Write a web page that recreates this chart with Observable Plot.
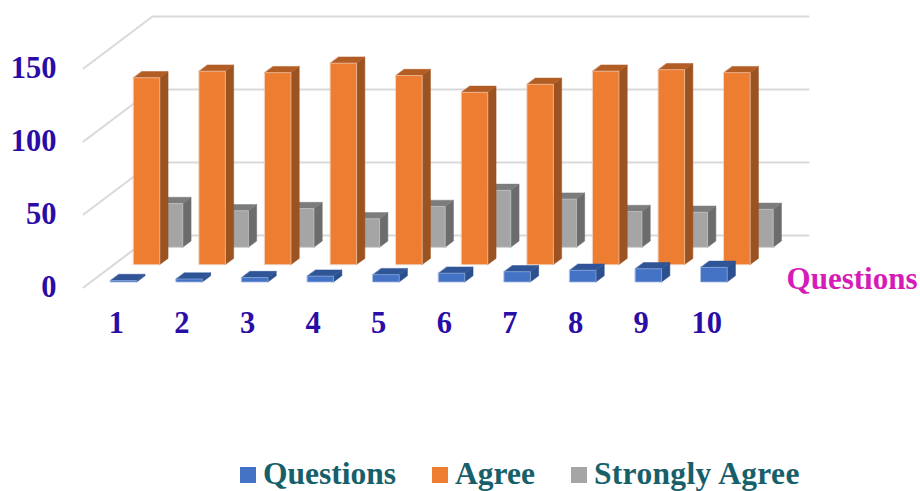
<!DOCTYPE html>
<html>
<head>
<meta charset="utf-8">
<script src="https://cdn.jsdelivr.net/npm/d3@7"></script>
<script src="https://cdn.jsdelivr.net/npm/@observablehq/plot@0.6"></script>
<style>
html,body{margin:0;padding:0;background:#fff;width:920px;height:491px;overflow:hidden}
#chart svg{display:block}
#legend{display:flex;align-items:center;height:28px;padding-left:240px;font:bold 31.5px/28px "Liberation Serif",serif;color:#17606a}
#legend i{display:block;width:16px;height:16px;margin-right:7px;margin-top:2px}
#legend span{display:block;white-space:nowrap}
</style>
</head>
<body>
<div id="chart"></div>
<div id="legend"></div>
<script>
const categories = [1,2,3,4,5,6,7,8,9,10];
const questions = [1,2,3,4,5,6,7,8,9,10];
const agree = [128,132.5,131.5,138,129.5,118,123.5,132.5,133.5,131.5];
const stronglyAgree = [30,25,26.5,19.5,28,39,33,24.5,24,26];
const yTicks = [0,50,100,150];
const seriesNames = ["Questions","Agree","Strongly Agree"];
const legendColors = ["#4472C4","#ED7D31","#A5A5A5"];

// oblique projection of the 3D chart: depth z is expressed in scale units
const unitX = 65.6, unitY = 1.46, depthX = 23, depthY = 17.33;
const rows = 3, halfBar = 0.2, zFront = 0.32, zBack = 0.68;
const P = (c, v, z, id) => ({x: c + z * depthX / unitX, y: v + z * depthY / unitY, id});

function faces(values, row) {
  const front = [], side = [], top = [];
  values.forEach((v, i) => {
    const c = categories[i], a = c - halfBar, b = c + halfBar, f = row + zFront, k = row + zBack;
    front.push(P(a,0,f,i),P(b,0,f,i),P(b,v,f,i),P(a,v,f,i));
    side.push(P(b,0,f,i),P(b,0,k,i),P(b,v,k,i),P(b,v,f,i));
    top.push(P(a,v,f,i),P(b,v,f,i),P(b,v,k,i),P(a,v,k,i));
  });
  return {front, side, top};
}
function box(values, row, cFront, cSide, cTop, halo) {
  const {front, side, top} = faces(values, row);
  const o = (fill, stroke, sw) => ({x:"x", y:"y", z:"id", fill, stroke, strokeWidth:sw, curve:"linear-closed"});
  return [
    Plot.line(side, o(cSide, cSide, .5)),
    Plot.line(top, o(cTop, cTop, .5)),
    Plot.line(front, o(cFront, halo, .7))
  ];
}
const wallLeft = yTicks.flatMap(t => [P(0.5,t,0,t), P(0.5,t,rows,t)]);
const wallBack = yTicks.flatMap(t => [P(0.5,t,rows,t), P(10.5,t,rows,t)]);

const chart = Plot.plot({
  width: 920, height: 460,
  marginLeft: 83, marginRight: 112, marginTop: 10, marginBottom: 173,
  x: {type:"linear", domain:[0.5, 10.5 + rows*depthX/unitX]},
  y: {type:"linear", domain:[0, 277/unitY]},
  marks: [
    Plot.line(wallLeft, {x:"x", y:"y", z:"id", stroke:"#d9d9d9", strokeWidth:2}),
    Plot.line(wallBack, {x:"x", y:"y", z:"id", stroke:"#d9d9d9", strokeWidth:2}),
    ...box(stronglyAgree, 2, "#A5A5A5", "#6C6C6C", "#7C7C7C", "#c4c4c4"),
    ...box(agree, 1, "#ED7D31", "#9C5322", "#B25D24", "#f0c6ab"),
    ...box(questions, 0, "#4472C4", "#2C4F8E", "#2F5597", "#8faadc"),
    Plot.axisY({ticks: yTicks, tickSize:0, tickPadding:27, label:null, tickFormat:d=>d,
      fontSize:30.5, fontWeight:"bold", fontFamily:"Liberation Serif", fill:"#2A0CA6"}),
    Plot.axisX({ticks: categories, tickSize:0, tickPadding:24, label:null, tickFormat:d=>d,
      fontSize:30.5, fontWeight:"bold", fontFamily:"Liberation Serif", fill:"#2A0CA6"}),
    Plot.text(["Questions"], {frameAnchor:"bottom-right", dx:109, dy:1, textAnchor:"end",
      fontSize:31, fontWeight:"bold", fontFamily:"Liberation Serif", fill:"#D61CB8"})
  ]
});
document.getElementById("chart").append(chart);

const gaps = [36, 36, 0];
const legend = document.getElementById("legend");
seriesNames.forEach((name, i) => {
  const sw = document.createElement("i");
  sw.style.background = legendColors[i];
  const t = document.createElement("span");
  t.textContent = name;
  t.style.marginRight = gaps[i] + "px";
  if (i === 2) t.style.letterSpacing = "0.35px";
  legend.append(sw, t);
});
</script>
</body>
</html>
